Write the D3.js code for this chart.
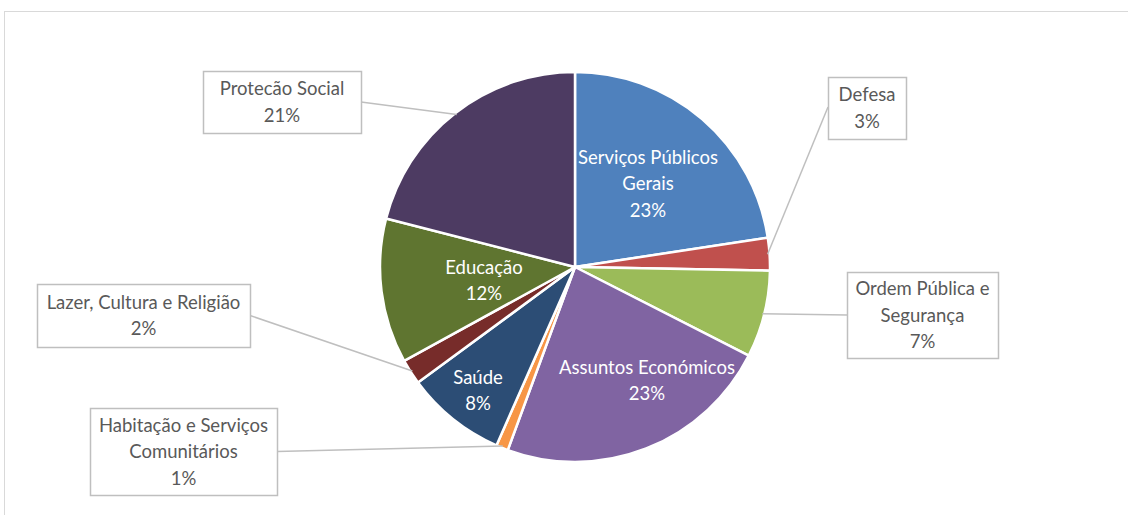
<!DOCTYPE html>
<html>
<head>
<meta charset="utf-8">
<script src="https://cdn.jsdelivr.net/npm/d3@7"></script>
<style>
  body { margin: 0; background: #fff; }
  text { font-family: Lato, "Open Sans", sans-serif; }
</style>
</head>
<body>
<div id="chart"></div>
<script>
// data (share of expenditure, %)
var categories = ["Serviços Públicos Gerais", "Defesa", "Ordem Pública e Segurança",
  "Assuntos Económicos", "Habitação e Serviços Comunitários", "Saúde",
  "Lazer, Cultura e Religião", "Educação", "Protecão Social"];
var values = [22.6, 2.7, 7.2, 23.1, 1.0, 8.3, 2.1, 12.0, 21.0];
var pctLabels = ["23%", "3%", "7%", "23%", "1%", "8%", "2%", "12%", "21%"];
var colors = ["#4F81BD", "#C0504D", "#9BBB59", "#8064A2", "#F79646",
  "#2C4D75", "#772C2A", "#5F7530", "#4D3B62"];

// label layout: inside labels (white text) or callout boxes
var labelLines = [
  ["Serviços Públicos", "Gerais"], ["Defesa"], ["Ordem Pública e", "Segurança"],
  ["Assuntos Económicos"], ["Habitação e Serviços", "Comunitários"], ["Saúde"],
  ["Lazer, Cultura e Religião"], ["Educação"], ["Protecão Social"]
];
var layout = [
  {inside: true, x: 648, y: 157},
  {box: [828, 77, 78, 62], anchor: "left"},
  {box: [847, 272, 151, 86], anchor: "left"},
  {inside: true, x: 647, y: 367},
  {box: [90, 408, 187, 87], anchor: "right"},
  {inside: true, x: 478, y: 377},
  {box: [37, 284, 213, 63], anchor: "right"},
  {inside: true, x: 484, y: 267},
  {box: [203, 71, 158, 62], anchor: "right"}
];

var width = 1128, height = 515;
var cx = 575, cy = 267, radius = 195;
var lineH = 26.5;
var fontSize = 18.5;

var svg = d3.select("#chart").append("svg")
    .attr("width", width)
    .attr("height", height);

// chart frame
svg.append("rect")
    .attr("x", 4.5).attr("y", 11.5)
    .attr("width", width).attr("height", height)
    .attr("fill", "none")
    .attr("stroke", "#d9d9d9");

var pie = d3.pie().sort(null).value(function(d) { return d; });
var arcs = pie(values);
var arc = d3.arc().innerRadius(0).outerRadius(radius);

var g = svg.append("g")
    .attr("transform", "translate(" + cx + "," + cy + ")");

g.selectAll("path.slice")
    .data(arcs)
  .enter().append("path")
    .attr("class", "slice")
    .attr("d", arc)
    .attr("fill", function(d, i) { return colors[i]; })
    .attr("stroke", "#fff")
    .attr("stroke-width", 2.5)
    .attr("stroke-linejoin", "round");

// leader lines + boxes
arcs.forEach(function(a, i) {
  var L = layout[i];
  var lines = labelLines[i].concat([pctLabels[i]]);
  if (L.inside) {
    var t = svg.append("text")
        .attr("text-anchor", "middle")
        .attr("fill", "#fff")
        .attr("font-size", fontSize);
    lines.forEach(function(s, k) {
      t.append("tspan").attr("x", L.x).attr("y", L.y + k * lineH + 6.5).text(s);
    });
    return;
  }
  var b = L.box;
  var mid = (a.startAngle + a.endAngle) / 2;
  var px = cx + Math.sin(mid) * (radius - 2), py = cy - Math.cos(mid) * (radius - 2);
  var bx = L.anchor === "left" ? b[0] : b[0] + b[2];
  var by = b[1] + b[3] / 2;
  if (i === 1) { by = b[1] + 30; }
  svg.append("line")
      .attr("x1", px).attr("y1", py)
      .attr("x2", bx).attr("y2", by)
      .attr("stroke", "#bfbfbf")
      .attr("stroke-width", 1.5);
  svg.append("rect")
      .attr("x", b[0] + 0.5).attr("y", b[1] + 0.5)
      .attr("width", b[2]).attr("height", b[3])
      .attr("fill", "#fff")
      .attr("stroke", "#bfbfbf")
      .attr("stroke-width", 1.5);
  var t2 = svg.append("text")
      .attr("text-anchor", "middle")
      .attr("fill", "#595959")
      .attr("font-size", fontSize);
  var top = b[1] + b[3] / 2 - (lines.length - 1) * lineH / 2;
  lines.forEach(function(s, k) {
    t2.append("tspan").attr("x", b[0] + b[2] / 2).attr("y", top + k * lineH + 6.5).text(s);
  });
});
</script>
</body>
</html>
